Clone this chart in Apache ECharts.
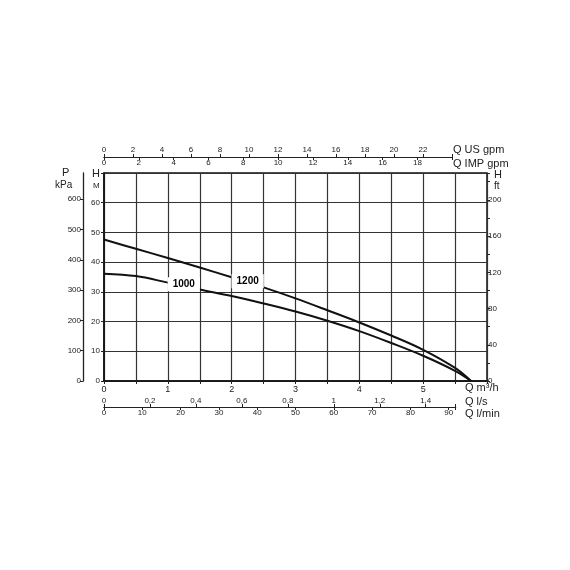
<!DOCTYPE html>
<html><head><meta charset="utf-8">
<script src="https://cdn.jsdelivr.net/npm/echarts@6/dist/echarts.min.js"></script>
<style>html,body{margin:0;padding:0;background:#fff}#c{width:570px;height:570px}</style>
</head><body><div id="c"></div>
<script>
// ---- data ----
const flowQ    = [0, 0.5, 1, 1.5, 2, 2.5, 3, 3.5, 4, 4.5, 5, 5.5, 5.75];           // m3/h
const head1200 = [47.6, 44.5, 41.4, 38.2, 34.9, 31.5, 27.8, 23.8, 19.7, 15.3, 10.5, 4.4, 0]; // m
const head1000 = [36.1, 35.3, 33.1, 30.8, 28.6, 26.1, 23.4, 20.3, 16.8, 12.8, 8.5, 3.4, 0];  // m
const curveNames  = ['1000', '1200'];
const curveLabelQ = [1.25, 2.25];
const curveLabelH = [32.6, 33.6];

// axis ranges
const qMax = 6, qStep = 0.5;
const hMax = 70, hStep = 10;
const usGpmMax = 24, usGpmStep = 2, impGpmStep = 2;
const lsMax = 1.53, lsStep = 0.2, lminStep = 10;
const ftStep = 40, kpaStep = 100;
const kpaTicks = [0, 100, 200, 300, 400, 500, 600];

// unit conversions
const M3H_PER_USGPM = 0.2271247, IMP_PER_US = 0.8326742, M3H_PER_LS = 3.6;
const FT_PER_M = 1 / 0.3048, KPA_PER_M = 9.80665;

// layout
const L = 104, T = 173, W = 383, HH = 208;
const pxPerQ = W / qMax;
const usW = usGpmMax * M3H_PER_USGPM * pxPerQ;
const lsW = lsMax * M3H_PER_LS * pxPerQ;
const FONT = "'Liberation Sans', Arial, sans-serif";
const TXT = '#222';

const isMult = (v, s) => Math.abs(v / s - Math.round(v / s)) < 1e-6;
const comma = v => (isMult(v, 1) ? String(Math.round(v)) : v.toFixed(1).replace('.', ','));

const lbl = (extra) => Object.assign({ color: TXT, fontFamily: FONT, fontSize: 8 }, extra || {});
const line = { show: true, onZero: false, lineStyle: { color: '#222', width: 1.2 } };
const tick = { show: true, length: 3, lineStyle: { color: '#222' } };
const helperGrid = (top, width) => ({ left: L, top: top, width: width, height: 10, show: false, borderWidth: 0 });
const hiddenY = g => ({ gridIndex: g, type: 'value', show: false, min: 0, max: 1,
  axisLine: { show: false }, axisTick: { show: false }, axisLabel: { show: false }, splitLine: { show: false } });

const chart = echarts.init(document.getElementById('c'), null, { renderer: 'canvas' });
chart.setOption({
  backgroundColor: '#fff',
  animation: false,
  grid: [
    { left: L, top: T, width: W, height: HH, show: true, borderColor: '#111', borderWidth: 1.5, backgroundColor: 'transparent' },
    helperGrid(157, usW),   // US gpm (axis at top edge)
    helperGrid(147, usW),   // IMP gpm (axis at bottom edge)
    helperGrid(407, lsW),   // l/s (axis at top edge)
    helperGrid(397, lsW)    // l/min (axis at bottom edge)
  ],
  xAxis: [
    { gridIndex: 0, type: 'value', position: 'bottom', min: 0, max: qMax, interval: qStep,
      axisLine: { show: true, onZero: false, lineStyle: { color: '#111', width: 1.5 } },
      axisTick: tick,
      splitLine: { show: true, lineStyle: { color: '#333', width: 1.2 } },
      axisLabel: lbl({ fontSize: 9, margin: 4, formatter: v => (isMult(v, 1) && v < qMax ? String(v) : '') }) },
    { gridIndex: 1, type: 'value', position: 'top', min: 0, max: usGpmMax, interval: usGpmStep,
      axisLine: line, axisTick: tick, splitLine: { show: false }, splitArea: { show: false },
      axisLabel: lbl({ margin: 3, formatter: v => (v < usGpmMax ? String(v) : '') }) },
    { gridIndex: 2, type: 'value', position: 'bottom', min: 0, max: usGpmMax * IMP_PER_US, interval: impGpmStep,
      axisLine: line, axisTick: tick, splitLine: { show: false }, splitArea: { show: false },
      axisLabel: lbl({ margin: 2, formatter: v => (isMult(v, impGpmStep) && v < usGpmMax * IMP_PER_US - 1 ? String(v) : '') }) },
    { gridIndex: 3, type: 'value', position: 'top', min: 0, max: lsMax, interval: lsStep,
      axisLine: line, axisTick: tick, splitLine: { show: false }, splitArea: { show: false },
      axisLabel: lbl({ margin: 2, formatter: v => (isMult(v, lsStep) ? comma(v) : '') }) },
    { gridIndex: 4, type: 'value', position: 'bottom', min: 0, max: lsMax * 60, interval: lminStep,
      axisLine: line, axisTick: tick, splitLine: { show: false }, splitArea: { show: false },
      axisLabel: lbl({ margin: 2, formatter: v => (isMult(v, lminStep) ? String(v) : '') }) }
  ],
  yAxis: [
    { gridIndex: 0, type: 'value', position: 'left', min: 0, max: hMax, interval: hStep,
      axisLine: { show: true, onZero: false, lineStyle: { color: '#111', width: 1.5 } },
      axisTick: tick,
      splitLine: { show: true, lineStyle: { color: '#333', width: 1.2 } },
      axisLabel: lbl({ margin: 4, formatter: v => (v < hMax ? String(v) : '') }) },
    { gridIndex: 0, type: 'value', position: 'right', min: 0, max: hMax * FT_PER_M, interval: ftStep,
      axisLine: { show: false, onZero: false },
      axisTick: tick,
      minorTick: { show: true, splitNumber: 2, length: 3, lineStyle: { color: '#222' } },
      splitLine: { show: false },
      axisLabel: lbl({ margin: 1, formatter: v => (isMult(v, ftStep) ? String(v) : '') }) },
    { gridIndex: 0, type: 'value', position: 'left', offset: 21, min: 0, max: hMax * KPA_PER_M, interval: kpaStep,
      axisLine: { show: true, onZero: false, lineStyle: { color: '#222', width: 1.3 } },
      axisTick: { show: true, length: 3, customValues: kpaTicks, lineStyle: { color: '#222' } },
      splitLine: { show: false },
      axisLabel: lbl({ margin: 2, customValues: kpaTicks, formatter: v => (isMult(v, kpaStep) ? String(v) : '') }) },
    hiddenY(1), hiddenY(2), hiddenY(3), hiddenY(4)
  ],
  series: [
    { name: '1200', type: 'line', xAxisIndex: 0, yAxisIndex: 0, smooth: 0.35, symbol: 'none',
      lineStyle: { color: '#111', width: 2 }, z: 3,
      data: flowQ.map((q, i) => [q, head1200[i]]) },
    { name: '1000', type: 'line', xAxisIndex: 0, yAxisIndex: 0, smooth: 0.35, symbol: 'none',
      lineStyle: { color: '#111', width: 2 }, z: 3,
      data: flowQ.map((q, i) => [q, head1000[i]]) },
    { name: 'labels', type: 'scatter', xAxisIndex: 0, yAxisIndex: 0, symbolSize: 0, z: 10,
      itemStyle: { opacity: 1 },
      label: { show: true, position: 'inside', formatter: p => p.data[2], color: '#000',
               fontFamily: FONT, fontSize: 10, fontWeight: 'bold', backgroundColor: '#fff', padding: [2, 5] },
      data: curveNames.map((n, i) => [curveLabelQ[i], curveLabelH[i], n]) }
  ],
  graphic: [
    { type: 'text', left: 453, top: 144, style: { text: 'Q US gpm', font: `11px ${FONT}`, fill: TXT } },
    { type: 'text', left: 453, top: 158, style: { text: 'Q IMP gpm', font: `11px ${FONT}`, fill: TXT } },
    { type: 'text', left: 494, top: 169, style: { text: 'H', font: `11px ${FONT}`, fill: TXT } },
    { type: 'text', left: 494, top: 181, style: { text: 'ft', font: `10px ${FONT}`, fill: TXT } },
    { type: 'text', left: 62, top: 167, style: { text: 'P', font: `11px ${FONT}`, fill: TXT } },
    { type: 'text', left: 55, top: 180, style: { text: 'kPa', font: `10px ${FONT}`, fill: TXT } },
    { type: 'text', left: 92, top: 168, style: { text: 'H', font: `11px ${FONT}`, fill: TXT } },
    { type: 'text', left: 93, top: 182, style: { text: 'M', font: `8px ${FONT}`, fill: TXT } },
    { type: 'text', left: 465, top: 382, style: { text: 'Q m³/h', font: `11px ${FONT}`, fill: TXT } },
    { type: 'text', left: 465, top: 396, style: { text: 'Q l/s', font: `11px ${FONT}`, fill: TXT } },
    { type: 'text', left: 465, top: 408, style: { text: 'Q l/min', font: `11px ${FONT}`, fill: TXT } }
  ]
});
</script></body></html>
